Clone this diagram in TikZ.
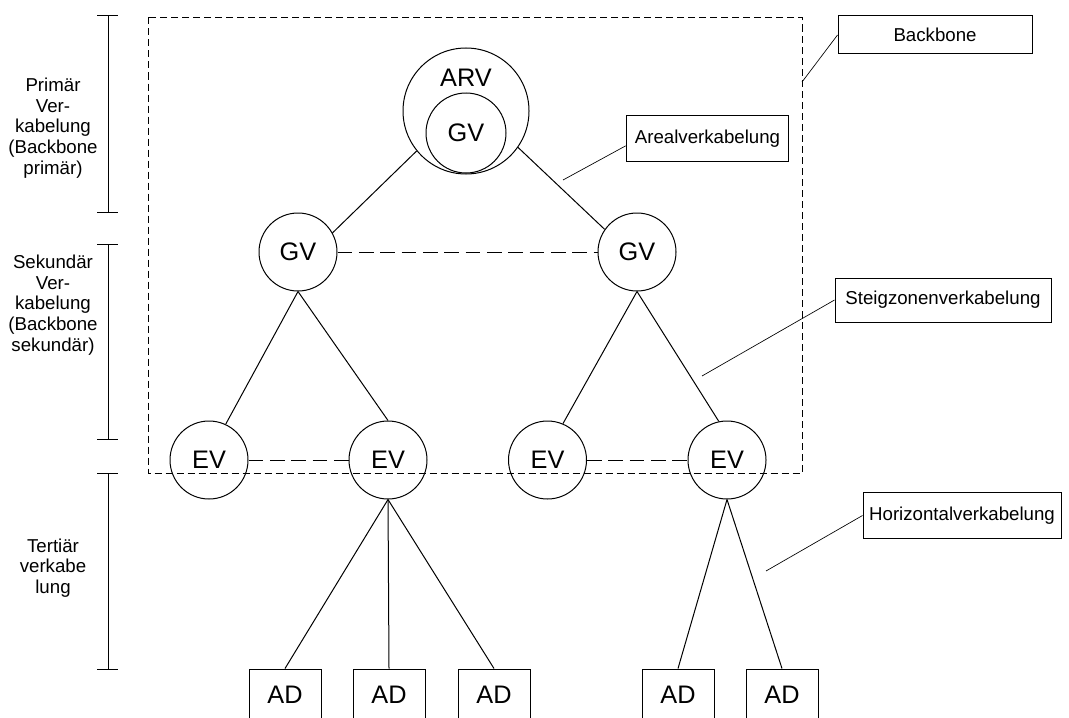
\documentclass[tikz,border=0pt]{standalone}
\usepackage{fontspec}
\setmainfont{Liberation Sans}

\tikzset{
  vert/.style={circle,draw,minimum size=58.5pt,inner sep=0pt,font=\fontsize{19}{23}\selectfont},
  dose/.style={rectangle,draw,minimum width=54pt,minimum height=39pt,inner sep=0pt,font=\fontsize{19}{23}\selectfont},
  callout/.style={rectangle,draw,inner sep=0pt,font=\fontsize{14}{17}\selectfont},
  sidetext/.style={align=center,font=\fontsize{14}{15.5}\selectfont},
  crosslink/.style={dash pattern=on 11pt off 5pt},
  pointer/.style={line width=0.5pt}
}

\begin{document}
\begin{tikzpicture}[x=0.75pt,y=-0.75pt,line width=0.75pt]
\useasboundingbox (0,0) rectangle (1069,717);
%
% Levels
\draw (97,16) -- (118,16) (108,16) -- (108,212) (97,212) -- (118,212);
\node[sidetext] (primaer) at (53,128) {Primär\\Ver-\\kabelung\\(Backbone\\primär)};
\draw (97,244) -- (118,244) (108,244) -- (108,439) (97,439) -- (118,439);
\node[sidetext] (sekundaer) at (53,305) {Sekundär\\Ver-\\kabelung\\(Backbone\\sekundär)};
\draw (97,473) -- (118,473) (108,473) -- (108,669) (97,669) -- (118,669);
\node[sidetext] (tertiaer) at (53,568) {Tertiär\\verkabe\\lung};

%
% Backbone area
\draw[dash pattern=on 5.25pt off 3pt] (148,17.5) rectangle (802,473);

%
% ARV with GV
\node[vert,minimum size=94.5pt] (arv) at (466,111) {};
\node[font=\fontsize{19}{23}\selectfont] (arvtext) at (466,78) {ARV};
\node[vert,minimum size=60pt] (gv0) at (466,133) {GV};
% GV
\node[vert] (gv1) at (298,252) {GV};
\node[vert] (gv2) at (637,252) {GV};
% EV
\node[vert] (ev1) at (209,460) {EV};
\node[vert] (ev2) at (388,460) {EV};
\node[vert] (ev3) at (547.5,460) {EV};
\node[vert] (ev4) at (727,460) {EV};
% AD
\node[dose] (ad1) at (285,695) {AD};
\node[dose] (ad2) at (389,695) {AD};
\node[dose] (ad3) at (494,695) {AD};
\node[dose] (ad4) at (678,695) {AD};
\node[dose] (ad5) at (782,695) {AD};

%
% Cabling
\draw (arv.219) -- (gv1.29);
\draw (arv.325) -- (gv2.145);
\draw[crosslink] (gv1.east) -- (gv2.west);
\draw (gv1.south) -- (ev1.65);
\draw (gv1.south) -- (ev2.north);
\draw (gv2.south) -- (ev3.67);
\draw (gv2.south) -- (ev4.102);
\draw[crosslink] (ev1.east) -- (ev2.west);
\draw[crosslink] (ev3.east) -- (ev4.west);
\foreach \ad in {ad1,ad2,ad3}
  \draw (ev2.south) -- (\ad.north);
\foreach \ad in {ad4,ad5}
  \draw (ev4.south) -- (\ad.north);

%
% Callouts
\node[callout,minimum width=145.5pt,minimum height=28.5pt] (backbone) at (935,35) {Backbone};
\coordinate (backbonetip) at (802,82);
\draw[pointer] (backbone.west) -- (backbonetip);
\node[callout,minimum width=122pt,minimum height=34pt] (areal) at (707.5,138.5) {Arealverkabelung};
\coordinate (arealtip) at (563,180);
\draw[pointer] ([yshift=-5.5pt]areal.west) -- (arealtip);
\node[callout,minimum width=162pt,minimum height=33pt] (steig) at (943,300) {Steigzonenverkabelung};
\coordinate (steigtip) at (702,376);
\draw[pointer] (steig.west) -- (steigtip);
\node[callout,minimum width=148.5pt,minimum height=34pt] (horiz) at (962,515.5) {Horizontalverkabelung};
\coordinate (horiztip) at (766,571);
\draw[pointer] (horiz.west) -- (horiztip);
\end{tikzpicture}
\end{document}
